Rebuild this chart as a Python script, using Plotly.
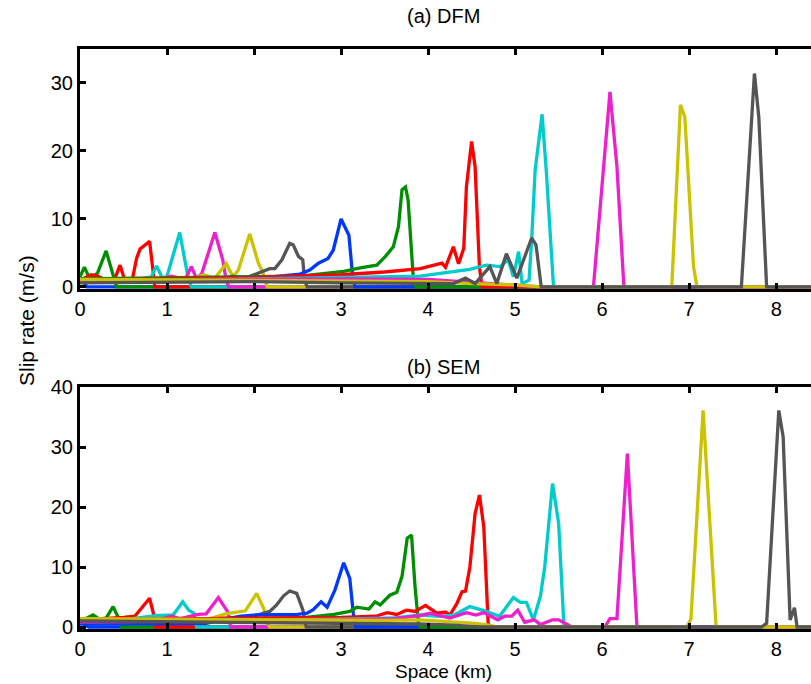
import plotly.graph_objects as go

# ---------------- data: (a) DFM snapshots ----------------
DFM_01_X = [0, 0.04, 0.08, 8.5]
DFM_01_Y = [1.2, 0.8, 0, 0]
DFM_02_X = [0, 0.05, 0.11, 0.2, 0.30, 0.38, 0.42, 8.5]
DFM_02_Y = [1.5, 2.9, 1.3, 2.0, 5.3, 1.5, 0, 0]
DFM_03_X = [0, 0.13, 0.2, 0.3, 0.40, 0.46, 0.52, 0.6, 0.65, 0.69, 0.80, 0.83, 0.86, 8.5]
DFM_03_Y = [1.0, 1.8, 1.6, 1.0, 1.2, 3.2, 0.8, 1.0, 4.2, 5.6, 6.7, 2.8, 0, 0]
DFM_04_X = [0, 0.4, 0.7, 0.82, 0.88, 0.95, 1.0, 1.146, 1.24, 1.28, 8.5]
DFM_04_Y = [1.0, 1.0, 1.2, 1.5, 3.1, 1.2, 1.6, 8.0, 1.5, 0, 0]
DFM_05_X = [0, 0.5, 0.9, 1.05, 1.15, 1.22, 1.28, 1.34, 1.40, 1.55, 1.64, 1.68, 1.71, 8.5]
DFM_05_Y = [0.9, 1.0, 1.2, 1.6, 1.3, 1.4, 3.0, 1.2, 2.0, 8.0, 4.0, 1.0, 0, 0]
DFM_06_X = [0, 0.5, 1.0, 1.3, 1.42, 1.55, 1.68, 1.76, 1.82, 1.95, 2.05, 2.10, 2.15, 8.5]
DFM_06_Y = [1.1, 1.0, 1.0, 1.2, 1.8, 1.3, 3.4, 1.5, 2.5, 7.8, 3.5, 2.2, 0, 0]
DFM_07_X = [0, 1.0, 1.6, 1.75, 1.9, 2.0, 2.18, 2.24, 2.32, 2.41, 2.45, 2.51, 2.56, 2.58, 2.61, 8.5]
DFM_07_Y = [0.7, 0.8, 1.0, 1.6, 1.3, 1.8, 2.7, 2.7, 4.0, 6.4, 6.2, 4.5, 4.0, 1.0, 0, 0]
DFM_08_X = [0, 1.0, 2.0, 2.2, 2.53, 2.64, 2.74, 2.85, 2.91, 3.0, 3.09, 3.13, 3.16, 8.5]
DFM_08_Y = [1.0, 1.2, 1.4, 1.5, 1.9, 2.5, 3.5, 4.2, 5.4, 10.0, 7.6, 2.0, 0, 0]
DFM_09_X = [0, 1.0, 2.0, 2.53, 3.03, 3.22, 3.41, 3.51, 3.60, 3.66, 3.70, 3.74, 3.77, 3.83, 3.86, 8.5]
DFM_09_Y = [1.2, 1.3, 1.5, 1.6, 2.3, 2.8, 3.2, 4.5, 5.9, 8.9, 14.3, 14.7, 12.8, 1.3, 0, 0]
DFM_10_X = [0, 1.0, 2.0, 3.0, 3.5, 3.91, 4.06, 4.16, 4.20, 4.29, 4.35, 4.41, 4.44, 4.50, 4.54, 4.59, 4.62, 8.5]
DFM_10_Y = [1.0, 1.2, 1.4, 1.8, 2.2, 2.7, 3.2, 3.5, 2.9, 5.9, 3.4, 5.7, 14.7, 21.4, 17.7, 2.9, 0, 0]
DFM_11_X = [0, 1.0, 2.0, 3.0, 3.91, 4.14, 4.48, 4.67, 4.83, 4.92, 4.98, 5.04, 5.08, 5.16, 5.19, 5.23, 5.31, 5.36, 5.44, 5.46, 8.5]
DFM_11_Y = [0.9, 1.0, 1.2, 1.4, 1.6, 2.0, 2.6, 3.2, 3.0, 4.0, 1.5, 5.2, 0.5, 1.0, 6.9, 17.2, 25.4, 16.7, 0.3, 0, 0]
DFM_12_X = [0, 1.0, 2.0, 3.0, 4.0, 4.5, 5.0, 5.3, 5.9, 6.09, 6.17, 6.25, 8.5]
DFM_12_Y = [0.9, 1.0, 1.1, 1.2, 1.1, 0.7, 0.3, 0, 0, 28.7, 17.7, 0, 0]
DFM_13_X = [0, 1.0, 2.0, 3.0, 4.0, 4.5, 5.0, 5.3, 6.80, 6.90, 6.95, 7.05, 7.09, 8.5]
DFM_13_Y = [1.1, 1.0, 1.0, 0.9, 0.8, 0.5, 0.3, 0, 0, 26.8, 25.0, 3.0, 0, 0]
DFM_14_X = [0, 1.0, 2.0, 3.0, 3.91, 4.29, 4.43, 4.54, 4.71, 4.79, 4.90, 5.02, 5.19, 5.24, 5.30, 7.60, 7.75, 7.80, 7.89, 8.5]
DFM_14_Y = [0.6, 0.7, 0.8, 0.6, 0.5, 0.5, 1.3, 0.5, 3.0, 0.5, 4.9, 1.3, 7.2, 6.2, 0, 0, 31.4, 25.0, 0, 0]

# ---------------- data: (b) SEM snapshots ----------------
SEM_01_X = [0, 0.05, 0.1, 8.5]
SEM_01_Y = [1.0, 0.4, 0, 0]
SEM_02_X = [0, 0.08, 0.15, 0.22, 0.30, 0.38, 0.44, 0.48, 8.5]
SEM_02_Y = [1.3, 1.5, 2.0, 1.3, 1.5, 3.4, 1.6, 0, 0]
SEM_03_X = [0, 0.3, 0.5, 0.63, 0.72, 0.80, 0.84, 0.87, 8.5]
SEM_03_Y = [1.2, 1.4, 1.6, 1.8, 3.5, 4.8, 2.5, 0, 0]
SEM_04_X = [0, 0.5, 0.86, 1.07, 1.18, 1.25, 1.31, 1.34, 8.5]
SEM_04_Y = [1.1, 1.2, 1.9, 2.0, 4.2, 2.8, 2.3, 0, 0]
SEM_05_X = [0, 0.5, 0.9, 1.05, 1.15, 1.36, 1.45, 1.59, 1.66, 1.70, 1.73, 8.5]
SEM_05_Y = [0.9, 1.0, 1.2, 1.8, 1.4, 2.1, 2.2, 4.9, 3.5, 2.5, 0, 0]
SEM_06_X = [0, 0.5, 1.0, 1.5, 1.67, 1.82, 1.90, 2.03, 2.11, 2.15, 2.18, 8.5]
SEM_06_Y = [1.3, 1.2, 1.3, 1.4, 2.2, 2.6, 2.7, 5.6, 3.1, 0.8, 0, 0]
SEM_07_X = [0, 1.0, 1.5, 2.0, 2.18, 2.26, 2.34, 2.41, 2.49, 2.56, 2.60, 8.5]
SEM_07_Y = [1.0, 1.2, 1.3, 1.8, 2.6, 3.7, 5.2, 6.0, 5.6, 2.9, 0, 0]
SEM_08_X = [0, 1.0, 1.45, 1.85, 2.0, 2.5, 2.61, 2.68, 2.77, 2.84, 2.93, 3.03, 3.10, 3.14, 3.17, 8.5]
SEM_08_Y = [0.5, 0.5, 0.6, 1.8, 2.0, 2.1, 2.3, 2.9, 4.2, 3.3, 6.2, 10.7, 8.1, 2.3, 0, 0]
SEM_09_X = [0, 1.0, 2.0, 2.6, 2.92, 3.10, 3.18, 3.32, 3.39, 3.45, 3.56, 3.64, 3.70, 3.76, 3.81, 3.85, 3.89, 3.91, 8.5]
SEM_09_Y = [1.1, 1.2, 1.4, 1.6, 2.1, 2.6, 3.3, 3.0, 4.2, 3.7, 5.3, 5.8, 8.4, 14.8, 15.3, 6.7, 0.5, 0, 0]
SEM_10_X = [0, 1.0, 2.0, 3.0, 3.4, 3.53, 3.64, 3.75, 3.85, 3.97, 4.10, 4.20, 4.25, 4.33, 4.39, 4.43, 4.48, 4.54, 4.59, 4.64, 4.69, 4.71, 8.5]
SEM_10_Y = [1.2, 1.3, 1.4, 1.6, 1.8, 2.4, 2.1, 2.8, 2.6, 3.6, 2.3, 2.5, 2.0, 3.9, 5.9, 6.0, 10.0, 18.9, 22.0, 16.7, 0.7, 0, 0]
SEM_11_X = [0, 1.0, 2.0, 3.0, 3.6, 3.91, 4.14, 4.30, 4.48, 4.67, 4.82, 4.98, 5.06, 5.13, 5.21, 5.29, 5.34, 5.43, 5.50, 5.56, 5.58, 8.5]
SEM_11_Y = [1.0, 1.1, 1.2, 1.3, 1.5, 2.0, 1.8, 2.0, 3.4, 2.6, 1.8, 4.9, 4.1, 4.1, 1.2, 5.1, 10.0, 23.9, 17.3, 0.5, 0, 0]
SEM_12_X = [0, 1.0, 2.0, 3.0, 3.6, 3.91, 4.02, 4.25, 4.44, 4.55, 4.64, 4.80, 4.88, 4.96, 5.03, 5.11, 5.22, 5.29, 5.43, 5.50, 5.59, 5.65, 6.03, 6.09, 6.17, 6.29, 6.40, 8.5]
SEM_12_Y = [0.8, 0.9, 1.0, 1.2, 1.4, 1.9, 2.3, 1.5, 2.4, 2.0, 2.4, 1.2, 1.8, 1.8, 2.8, 0.8, 1.2, 0.4, 1.2, 1.2, 0.5, 0, 0, 1.4, 1.4, 28.9, 0, 0]
SEM_13_X = [0, 1.0, 2.0, 3.0, 3.5, 3.91, 4.25, 4.54, 4.7, 4.8, 6.97, 7.02, 7.16, 7.31, 8.5]
SEM_13_Y = [1.4, 1.3, 1.2, 1.1, 1.1, 1.2, 0.9, 0.6, 0.3, 0, 0, 1.3, 36.1, 0, 0]
SEM_14_X = [0, 1.0, 2.0, 3.0, 3.9, 4.3, 4.6, 7.83, 7.89, 8.03, 8.08, 8.16, 8.21, 8.24, 8.5]
SEM_14_Y = [1.0, 0.9, 0.8, 0.6, 0.5, 0.3, 0, 0, 0.6, 36.1, 31.7, 1.2, 3.2, 0, 0]

DFM_CURVES = [
    (DFM_01_X, DFM_01_Y), (DFM_02_X, DFM_02_Y), (DFM_03_X, DFM_03_Y), (DFM_04_X, DFM_04_Y),
    (DFM_05_X, DFM_05_Y), (DFM_06_X, DFM_06_Y), (DFM_07_X, DFM_07_Y), (DFM_08_X, DFM_08_Y),
    (DFM_09_X, DFM_09_Y), (DFM_10_X, DFM_10_Y), (DFM_11_X, DFM_11_Y), (DFM_12_X, DFM_12_Y),
    (DFM_13_X, DFM_13_Y), (DFM_14_X, DFM_14_Y),
]
SEM_CURVES = [
    (SEM_01_X, SEM_01_Y), (SEM_02_X, SEM_02_Y), (SEM_03_X, SEM_03_Y), (SEM_04_X, SEM_04_Y),
    (SEM_05_X, SEM_05_Y), (SEM_06_X, SEM_06_Y), (SEM_07_X, SEM_07_Y), (SEM_08_X, SEM_08_Y),
    (SEM_09_X, SEM_09_Y), (SEM_10_X, SEM_10_Y), (SEM_11_X, SEM_11_Y), (SEM_12_X, SEM_12_Y),
    (SEM_13_X, SEM_13_Y), (SEM_14_X, SEM_14_Y),
]

COLORS = ["#0038FF", "#008F00", "#FF0000", "#00CCCC", "#EE1FCC", "#CCC200", "#555555"]

X_TICKS = [0, 1, 2, 3, 4, 5, 6, 7, 8]
Y_TICKS_DFM = [0, 10, 20, 30]
Y_TICKS_SEM = [0, 10, 20, 30, 40]

FONT = "Liberation Sans, Arial, sans-serif"

fig = go.Figure()
for i, (xs, ys) in enumerate(DFM_CURVES):
    fig.add_trace(go.Scatter(x=xs, y=ys, mode="lines", xaxis="x", yaxis="y",
                             line=dict(color=COLORS[i % 7], width=3.3), showlegend=False,
                             hoverinfo="skip"))
for i, (xs, ys) in enumerate(SEM_CURVES):
    fig.add_trace(go.Scatter(x=xs, y=ys, mode="lines", xaxis="x2", yaxis="y2",
                             line=dict(color=COLORS[i % 7], width=3.3), showlegend=False,
                             hoverinfo="skip"))

axis_common = dict(
    showgrid=False, zeroline=False, showline=True, linecolor="black", linewidth=3,
    ticks="inside", ticklen=6, tickwidth=3, tickcolor="black",
    tickfont=dict(family=FONT, size=20, color="black"),
)

W, H = 811, 684
L, R, T, B = 80, 0, 49, 55
pw, ph = W - L - R, H - T - B


def px(xp):
    return (xp - L) / pw


def py(yp):
    return (H - B - yp) / ph


fig.update_layout(
    width=W, height=H,
    margin=dict(l=L, r=R, t=T, b=B, pad=0),
    paper_bgcolor="white", plot_bgcolor="white",
    font=dict(family=FONT, color="black"),
    xaxis=dict(axis_common, range=[0, 8.4], tickvals=X_TICKS, mirror="ticks",
               anchor="y", domain=[0, 1]),
    yaxis=dict(axis_common, range=[-0.3, 35], tickvals=Y_TICKS_DFM, mirror=False,
               anchor="x", domain=[0.5862, 1]),
    xaxis2=dict(axis_common, range=[0, 8.4], tickvals=X_TICKS, mirror="ticks",
                anchor="y2", domain=[0, 1]),
    yaxis2=dict(axis_common, range=[-0.33, 40], tickvals=Y_TICKS_SEM, mirror=False,
                anchor="x2", domain=[0, 0.4172]),
    annotations=[
        dict(text="(a) DFM", x=px(443), y=py(16), xref="paper", yref="paper", showarrow=False,
             font=dict(size=20, family=FONT), xanchor="center", yanchor="middle"),
        dict(text="(b) SEM", x=px(443), y=py(367), xref="paper", yref="paper", showarrow=False,
             font=dict(size=20, family=FONT), xanchor="center", yanchor="middle"),
        dict(text="Slip rate (m/s)", x=px(26), y=py(321), xref="paper", yref="paper",
             showarrow=False, textangle=-90, font=dict(size=21, family=FONT),
             xanchor="center", yanchor="middle"),
        dict(text="Space (km)", x=px(443), y=py(671), xref="paper", yref="paper",
             showarrow=False, font=dict(size=19, family=FONT),
             xanchor="center", yanchor="middle"),
    ],
)

fig.write_html("out.html", config={"displayModeBar": False},
               post_script="document.body.style.margin='0px';document.body.style.overflow='hidden';")
